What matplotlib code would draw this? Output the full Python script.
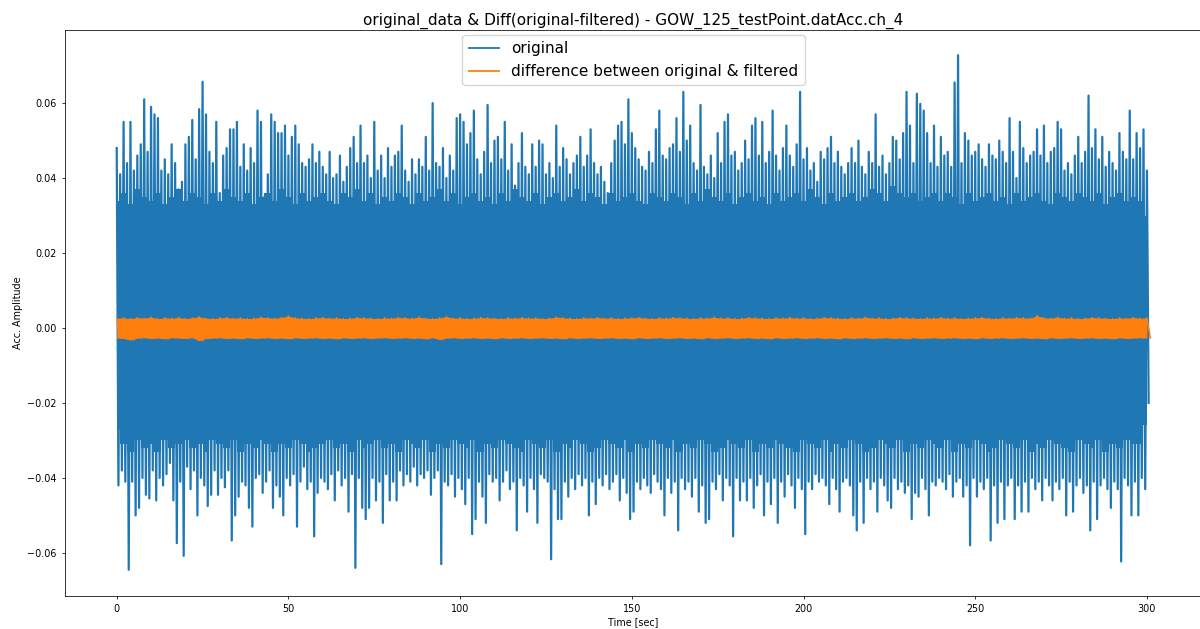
import matplotlib
matplotlib.use("Agg")
import matplotlib.pyplot as plt
import numpy as np

# blue signal: positive peak per second (t = 0..300 s)
orig_upper = [
    0.048, 0.041, 0.055, 0.044, 0.055, 0.042, 0.046, 0.049, 0.061, 0.047,
    0.059, 0.057, 0.056, 0.042, 0.045, 0.041, 0.049, 0.044, 0.037, 0.039,
    0.049, 0.051, 0.0555, 0.045, 0.0584, 0.0657, 0.057, 0.047, 0.044, 0.055,
    0.036, 0.046, 0.048, 0.053, 0.053, 0.055, 0.043, 0.049, 0.042, 0.048,
    0.044, 0.058, 0.055, 0.035, 0.041, 0.057, 0.055, 0.052, 0.052, 0.054,
    0.046, 0.051, 0.054, 0.049, 0.044, 0.043, 0.045, 0.049, 0.044, 0.047,
    0.043, 0.041, 0.047, 0.040, 0.041, 0.046, 0.039, 0.043, 0.048, 0.051,
    0.044, 0.054, 0.044, 0.046, 0.040, 0.055, 0.042, 0.046, 0.040, 0.048,
    0.043, 0.046, 0.047, 0.054, 0.042, 0.039, 0.045, 0.041, 0.045, 0.043,
    0.051, 0.042, 0.060, 0.044, 0.043, 0.048, 0.040, 0.046, 0.042, 0.056,
    0.057, 0.055, 0.049, 0.052, 0.058, 0.045, 0.041, 0.047, 0.0595, 0.044,
    0.050, 0.051, 0.045, 0.055, 0.042, 0.049, 0.038, 0.044, 0.052, 0.043,
    0.041, 0.049, 0.043, 0.050, 0.049, 0.041, 0.044, 0.040, 0.054, 0.043,
    0.048, 0.045, 0.041, 0.044, 0.046, 0.051, 0.043, 0.046, 0.053, 0.044,
    0.041, 0.043, 0.039, 0.036, 0.044, 0.050, 0.054, 0.055, 0.049, 0.061,
    0.052, 0.048, 0.045, 0.043, 0.042, 0.047, 0.044, 0.053, 0.058, 0.046,
    0.045, 0.048, 0.049, 0.056, 0.047, 0.063, 0.050, 0.054, 0.044, 0.042,
    0.0595, 0.043, 0.041, 0.046, 0.040, 0.052, 0.044, 0.055, 0.057, 0.046,
    0.047, 0.042, 0.044, 0.050, 0.045, 0.054, 0.056, 0.046, 0.055, 0.044,
    0.047, 0.058, 0.046, 0.042, 0.048, 0.054, 0.046, 0.043, 0.049, 0.063,
    0.045, 0.048, 0.042, 0.044, 0.039, 0.047, 0.045, 0.048, 0.051, 0.044,
    0.047, 0.043, 0.041, 0.044, 0.048, 0.044, 0.050, 0.043, 0.041, 0.047,
    0.044, 0.057, 0.043, 0.046, 0.041, 0.044, 0.051, 0.050, 0.045, 0.052,
    0.063, 0.054, 0.044, 0.0625, 0.0598, 0.058, 0.052, 0.044, 0.054, 0.043,
    0.051, 0.046, 0.047, 0.043, 0.0655, 0.0728, 0.044, 0.052, 0.050, 0.046,
    0.047, 0.049, 0.045, 0.043, 0.049, 0.046, 0.045, 0.050, 0.047, 0.044,
    0.056, 0.047, 0.040, 0.055, 0.048, 0.044, 0.046, 0.047, 0.053, 0.046,
    0.054, 0.044, 0.047, 0.048, 0.055, 0.053, 0.042, 0.044, 0.041, 0.046,
    0.051, 0.044, 0.047, 0.062, 0.048, 0.053, 0.045, 0.051, 0.043, 0.047,
    0.044, 0.042, 0.052, 0.047, 0.045, 0.058, 0.045, 0.052, 0.048, 0.053,
    0.042,
]

# blue signal: negative peak per second (t = 0.5..300.5 s)
orig_lower = [
    -0.042, -0.038, -0.041, -0.0645, -0.041, -0.050, -0.048, -0.040, -0.0445, -0.0455,
    -0.038, -0.046, -0.040, -0.042, -0.039, -0.036, -0.046, -0.0574, -0.041, -0.0608,
    -0.037, -0.043, -0.038, -0.050, -0.040, -0.042, -0.0475, -0.0445, -0.038, -0.0445,
    -0.040, -0.0425, -0.038, -0.0567, -0.050, -0.045, -0.041, -0.042, -0.048, -0.053,
    -0.040, -0.039, -0.044, -0.041, -0.038, -0.048, -0.042, -0.045, -0.050, -0.040,
    -0.042, -0.039, -0.053, -0.041, -0.037, -0.043, -0.041, -0.0556, -0.044, -0.040,
    -0.041, -0.043, -0.039, -0.046, -0.038, -0.042, -0.040, -0.049, -0.039, -0.064,
    -0.040, -0.048, -0.051, -0.048, -0.040, -0.046, -0.041, -0.052, -0.039, -0.046,
    -0.041, -0.046, -0.038, -0.042, -0.039, -0.041, -0.037, -0.042, -0.039, -0.040,
    -0.038, -0.0445, -0.040, -0.038, -0.063, -0.041, -0.042, -0.039, -0.045, -0.040,
    -0.043, -0.047, -0.040, -0.055, -0.051, -0.041, -0.045, -0.052, -0.039, -0.041,
    -0.040, -0.046, -0.041, -0.038, -0.043, -0.041, -0.054, -0.040, -0.042, -0.049,
    -0.040, -0.043, -0.052, -0.039, -0.040, -0.041, -0.0617, -0.043, -0.051, -0.051,
    -0.041, -0.045, -0.040, -0.043, -0.039, -0.042, -0.040, -0.050, -0.041, -0.047,
    -0.040, -0.042, -0.039, -0.043, -0.041, -0.039, -0.046, -0.040, -0.044, -0.051,
    -0.049, -0.041, -0.043, -0.040, -0.042, -0.044, -0.039, -0.041, -0.043, -0.050,
    -0.040, -0.044, -0.041, -0.054, -0.040, -0.043, -0.041, -0.045, -0.040, -0.049,
    -0.042, -0.052, -0.051, -0.041, -0.043, -0.039, -0.046, -0.040, -0.042, -0.0556,
    -0.040, -0.046, -0.041, -0.046, -0.040, -0.048, -0.042, -0.039, -0.050, -0.041,
    -0.047, -0.040, -0.052, -0.041, -0.045, -0.039, -0.042, -0.048, -0.040, -0.043,
    -0.055, -0.041, -0.043, -0.039, -0.041, -0.040, -0.042, -0.047, -0.040, -0.043,
    -0.049, -0.041, -0.040, -0.042, -0.050, -0.054, -0.041, -0.052, -0.040, -0.043,
    -0.041, -0.049, -0.040, -0.042, -0.046, -0.048, -0.040, -0.043, -0.041, -0.044,
    -0.042, -0.051, -0.044, -0.045, -0.040, -0.043, -0.050, -0.041, -0.042, -0.040,
    -0.041, -0.043, -0.039, -0.045, -0.041, -0.040, -0.045, -0.042, -0.058, -0.040,
    -0.045, -0.041, -0.043, -0.040, -0.0567, -0.042, -0.052, -0.041, -0.051, -0.042,
    -0.040, -0.051, -0.042, -0.049, -0.041, -0.049, -0.040, -0.043, -0.041, -0.046,
    -0.040, -0.042, -0.046, -0.041, -0.043, -0.040, -0.050, -0.041, -0.049, -0.042,
    -0.040, -0.044, -0.042, -0.054, -0.041, -0.051, -0.042, -0.040, -0.043, -0.048,
    -0.041, -0.043, -0.0623, -0.040, -0.042, -0.050, -0.041, -0.050, -0.040, -0.043,
    -0.020,
]

# blue signal: edges of the fully dense core, every 2 s (t = 0..300 s)
core_upper = [
    0.034, 0.036, 0.033, 0.037, 0.035, 0.034, 0.036, 0.033, 0.035, 0.037,
    0.034, 0.036, 0.035, 0.033, 0.036, 0.034, 0.037, 0.035, 0.034, 0.036,
    0.033, 0.035, 0.036, 0.034, 0.037, 0.035, 0.033, 0.036, 0.034, 0.035,
    0.036, 0.034, 0.033, 0.036, 0.035, 0.037, 0.034, 0.036, 0.033, 0.035,
    0.034, 0.036, 0.035, 0.033, 0.036, 0.034, 0.035, 0.037, 0.034, 0.036,
    0.033, 0.035, 0.036, 0.034, 0.035, 0.033, 0.036, 0.034, 0.037, 0.035,
    0.034, 0.036, 0.033, 0.035, 0.036, 0.034, 0.035, 0.037, 0.034, 0.036,
    0.035, 0.033, 0.036, 0.034, 0.035, 0.036, 0.034, 0.033, 0.036, 0.035,
    0.034, 0.036, 0.035, 0.033, 0.036, 0.034, 0.037, 0.035, 0.034, 0.036,
    0.033, 0.035, 0.036, 0.034, 0.035, 0.033, 0.036, 0.034, 0.035, 0.036,
    0.034, 0.037, 0.035, 0.033, 0.036, 0.034, 0.035, 0.036, 0.034, 0.035,
    0.037, 0.036, 0.034, 0.038, 0.036, 0.035, 0.036, 0.034, 0.035, 0.036,
    0.034, 0.036, 0.035, 0.033, 0.036, 0.034, 0.035, 0.036, 0.034, 0.035,
    0.033, 0.036, 0.034, 0.035, 0.036, 0.034, 0.033, 0.036, 0.035, 0.034,
    0.036, 0.035, 0.034, 0.036, 0.033, 0.035, 0.036, 0.034, 0.035, 0.034,
    0.030,
]
core_lower = [
    -0.027, -0.031, -0.033, -0.030, -0.032, -0.031, -0.033, -0.030, -0.032, -0.031,
    -0.030, -0.032, -0.031, -0.033, -0.030, -0.031, -0.032, -0.030, -0.033, -0.031,
    -0.032, -0.030, -0.031, -0.033, -0.031, -0.032, -0.030, -0.031, -0.033, -0.032,
    -0.031, -0.030, -0.032, -0.031, -0.033, -0.030, -0.032, -0.031, -0.030, -0.032,
    -0.031, -0.033, -0.030, -0.031, -0.032, -0.030, -0.033, -0.031, -0.032, -0.030,
    -0.031, -0.032, -0.030, -0.033, -0.031, -0.032, -0.030, -0.031, -0.032, -0.033,
    -0.030, -0.031, -0.032, -0.030, -0.033, -0.031, -0.032, -0.030, -0.031, -0.033,
    -0.032, -0.030, -0.031, -0.032, -0.030, -0.033, -0.031, -0.032, -0.030, -0.031,
    -0.032, -0.030, -0.033, -0.031, -0.032, -0.030, -0.031, -0.033, -0.032, -0.030,
    -0.031, -0.032, -0.030, -0.033, -0.031, -0.032, -0.030, -0.031, -0.032, -0.033,
    -0.030, -0.031, -0.032, -0.030, -0.033, -0.031, -0.032, -0.030, -0.031, -0.033,
    -0.032, -0.030, -0.031, -0.032, -0.030, -0.033, -0.031, -0.032, -0.030, -0.031,
    -0.032, -0.030, -0.033, -0.031, -0.032, -0.030, -0.031, -0.033, -0.032, -0.030,
    -0.031, -0.032, -0.030, -0.033, -0.031, -0.032, -0.030, -0.031, -0.032, -0.033,
    -0.030, -0.031, -0.032, -0.030, -0.033, -0.031, -0.032, -0.030, -0.031, -0.031,
    -0.026,
]

# orange difference: positive / negative peaks every 2 s
diff_upper = [
    0.0026, 0.0027, 0.0025, 0.0028, 0.0026, 0.0029, 0.0025, 0.0027, 0.0026, 0.0028,
    0.0025, 0.0027, 0.0030, 0.0026, 0.0025, 0.0027, 0.0028, 0.0026, 0.0027, 0.0025,
    0.0026, 0.0029, 0.0027, 0.0026, 0.0028, 0.0032, 0.0027, 0.0026, 0.0025, 0.0027,
    0.0028, 0.0026, 0.0027, 0.0025, 0.0026, 0.0028, 0.0027, 0.0026, 0.0025, 0.0027,
    0.0026, 0.0028, 0.0027, 0.0026, 0.0029, 0.0026, 0.0025, 0.0027, 0.0030, 0.0026,
    0.0027, 0.0025, 0.0026, 0.0028, 0.0027, 0.0026, 0.0025, 0.0027, 0.0026, 0.0028,
    0.0026, 0.0027, 0.0025, 0.0026, 0.0029, 0.0027, 0.0026, 0.0025, 0.0027, 0.0026,
    0.0028, 0.0026, 0.0027, 0.0025, 0.0026, 0.0027, 0.0028, 0.0026, 0.0025, 0.0027,
    0.0026, 0.0028, 0.0027, 0.0026, 0.0025, 0.0027, 0.0026, 0.0029, 0.0026, 0.0027,
    0.0025, 0.0026, 0.0028, 0.0027, 0.0026, 0.0025, 0.0027, 0.0026, 0.0028, 0.0026,
    0.0027, 0.0025, 0.0026, 0.0028, 0.0027, 0.0026, 0.0025, 0.0027, 0.0026, 0.0029,
    0.0026, 0.0027, 0.0025, 0.0026, 0.0028, 0.0027, 0.0026, 0.0025, 0.0027, 0.0026,
    0.0028, 0.0026, 0.0027, 0.0025, 0.0026, 0.0027, 0.0028, 0.0026, 0.0025, 0.0027,
    0.0026, 0.0028, 0.0027, 0.0026, 0.0033, 0.0027, 0.0026, 0.0029, 0.0026, 0.0027,
    0.0025, 0.0026, 0.0028, 0.0027, 0.0026, 0.0025, 0.0027, 0.0026, 0.0028, 0.0026,
    0.0027,
]
diff_lower = [
    -0.0027, -0.0028, -0.0032, -0.0027, -0.0026, -0.0028, -0.0027, -0.0029, -0.0026, -0.0027,
    -0.0028, -0.0026, -0.0034, -0.0028, -0.0027, -0.0026, -0.0028, -0.0027, -0.0029, -0.0026,
    -0.0028, -0.0027, -0.0026, -0.0028, -0.0027, -0.0029, -0.0026, -0.0028, -0.0027, -0.0026,
    -0.0028, -0.0027, -0.0029, -0.0026, -0.0028, -0.0027, -0.0026, -0.0028, -0.0027, -0.0026,
    -0.0028, -0.0027, -0.0026, -0.0028, -0.0027, -0.0029, -0.0026, -0.0031, -0.0027, -0.0026,
    -0.0028, -0.0027, -0.0026, -0.0028, -0.0027, -0.0029, -0.0026, -0.0028, -0.0027, -0.0026,
    -0.0028, -0.0027, -0.0026, -0.0028, -0.0027, -0.0029, -0.0026, -0.0028, -0.0027, -0.0026,
    -0.0028, -0.0027, -0.0026, -0.0028, -0.0027, -0.0029, -0.0026, -0.0028, -0.0027, -0.0026,
    -0.0028, -0.0027, -0.0026, -0.0028, -0.0027, -0.0029, -0.0026, -0.0028, -0.0027, -0.0026,
    -0.0028, -0.0027, -0.0026, -0.0028, -0.0027, -0.0029, -0.0026, -0.0028, -0.0027, -0.0026,
    -0.0028, -0.0027, -0.0026, -0.0028, -0.0027, -0.0029, -0.0026, -0.0028, -0.0027, -0.0026,
    -0.0028, -0.0027, -0.0026, -0.0028, -0.0027, -0.0029, -0.0026, -0.0028, -0.0027, -0.0026,
    -0.0028, -0.0027, -0.0026, -0.0028, -0.0027, -0.0029, -0.0026, -0.0028, -0.0027, -0.0026,
    -0.0028, -0.0027, -0.0026, -0.0028, -0.0027, -0.0029, -0.0026, -0.0028, -0.0027, -0.0026,
    -0.0028, -0.0027, -0.0026, -0.0028, -0.0027, -0.0029, -0.0026, -0.0028, -0.0027, -0.0026,
    -0.0027,
]

title = "original_data & Diff(original-filtered) - GOW_125_testPoint.datAcc.ch_4"
labels = ["original", "difference between original & filtered"]

BLUE = "#1f77b4"
ORANGE = "#ff7f0e"

# interleave positive/negative peaks into one trace
t_up = np.arange(len(orig_upper), dtype=float)
t_lo = t_up + 0.5
t_orig = np.column_stack([t_up, t_lo]).ravel()
y_orig = np.column_stack([orig_upper, orig_lower]).ravel()
t_core = np.arange(len(core_upper), dtype=float) * 2

td_up = np.arange(len(diff_upper), dtype=float) * 2
td_lo = td_up + 1.0
t_diff = np.column_stack([td_up, td_lo]).ravel()
y_diff = np.column_stack([diff_upper, diff_lower]).ravel()

fig = plt.figure(figsize=(12, 6.29), dpi=100)
ax = fig.add_axes([0.0542, 0.0525, 0.9475, 0.8998])

ax.fill_between(t_core, core_lower, core_upper, step="mid",
                color=BLUE, lw=0, zorder=2)
ax.plot(t_orig, y_orig, color=BLUE, lw=1.6, label=labels[0], zorder=2)
ax.fill_between(td_up, diff_lower, diff_upper, color=ORANGE, lw=0, zorder=3)
ax.plot(t_diff, y_diff, color=ORANGE, lw=1.1, label=labels[1], zorder=3)

ax.set_xlim(-15.05, 316.05)
ax.set_ylim(-0.0715, 0.0795)
ax.set_xticks([0, 50, 100, 150, 200, 250, 300])
ax.set_yticks([-0.06, -0.04, -0.02, 0.0, 0.02, 0.04, 0.06])
ax.tick_params(labelsize=6.9, length=2.4, width=0.55)
for s in ax.spines.values():
    s.set_linewidth(0.55)

ax.set_title(title, fontsize=11, pad=4)
ax.set_xlabel("Time [sec]", fontsize=6.9, labelpad=2)
ax.set_ylabel("Acc. Amplitude", fontsize=6.9, labelpad=3)
leg = ax.legend(loc="upper center", fontsize=11, handlelength=2.0,
                borderaxespad=0.35, framealpha=0.8)
for line in leg.get_lines():
    line.set_linewidth(1.3)

fig.savefig("out.png", dpi=100)
